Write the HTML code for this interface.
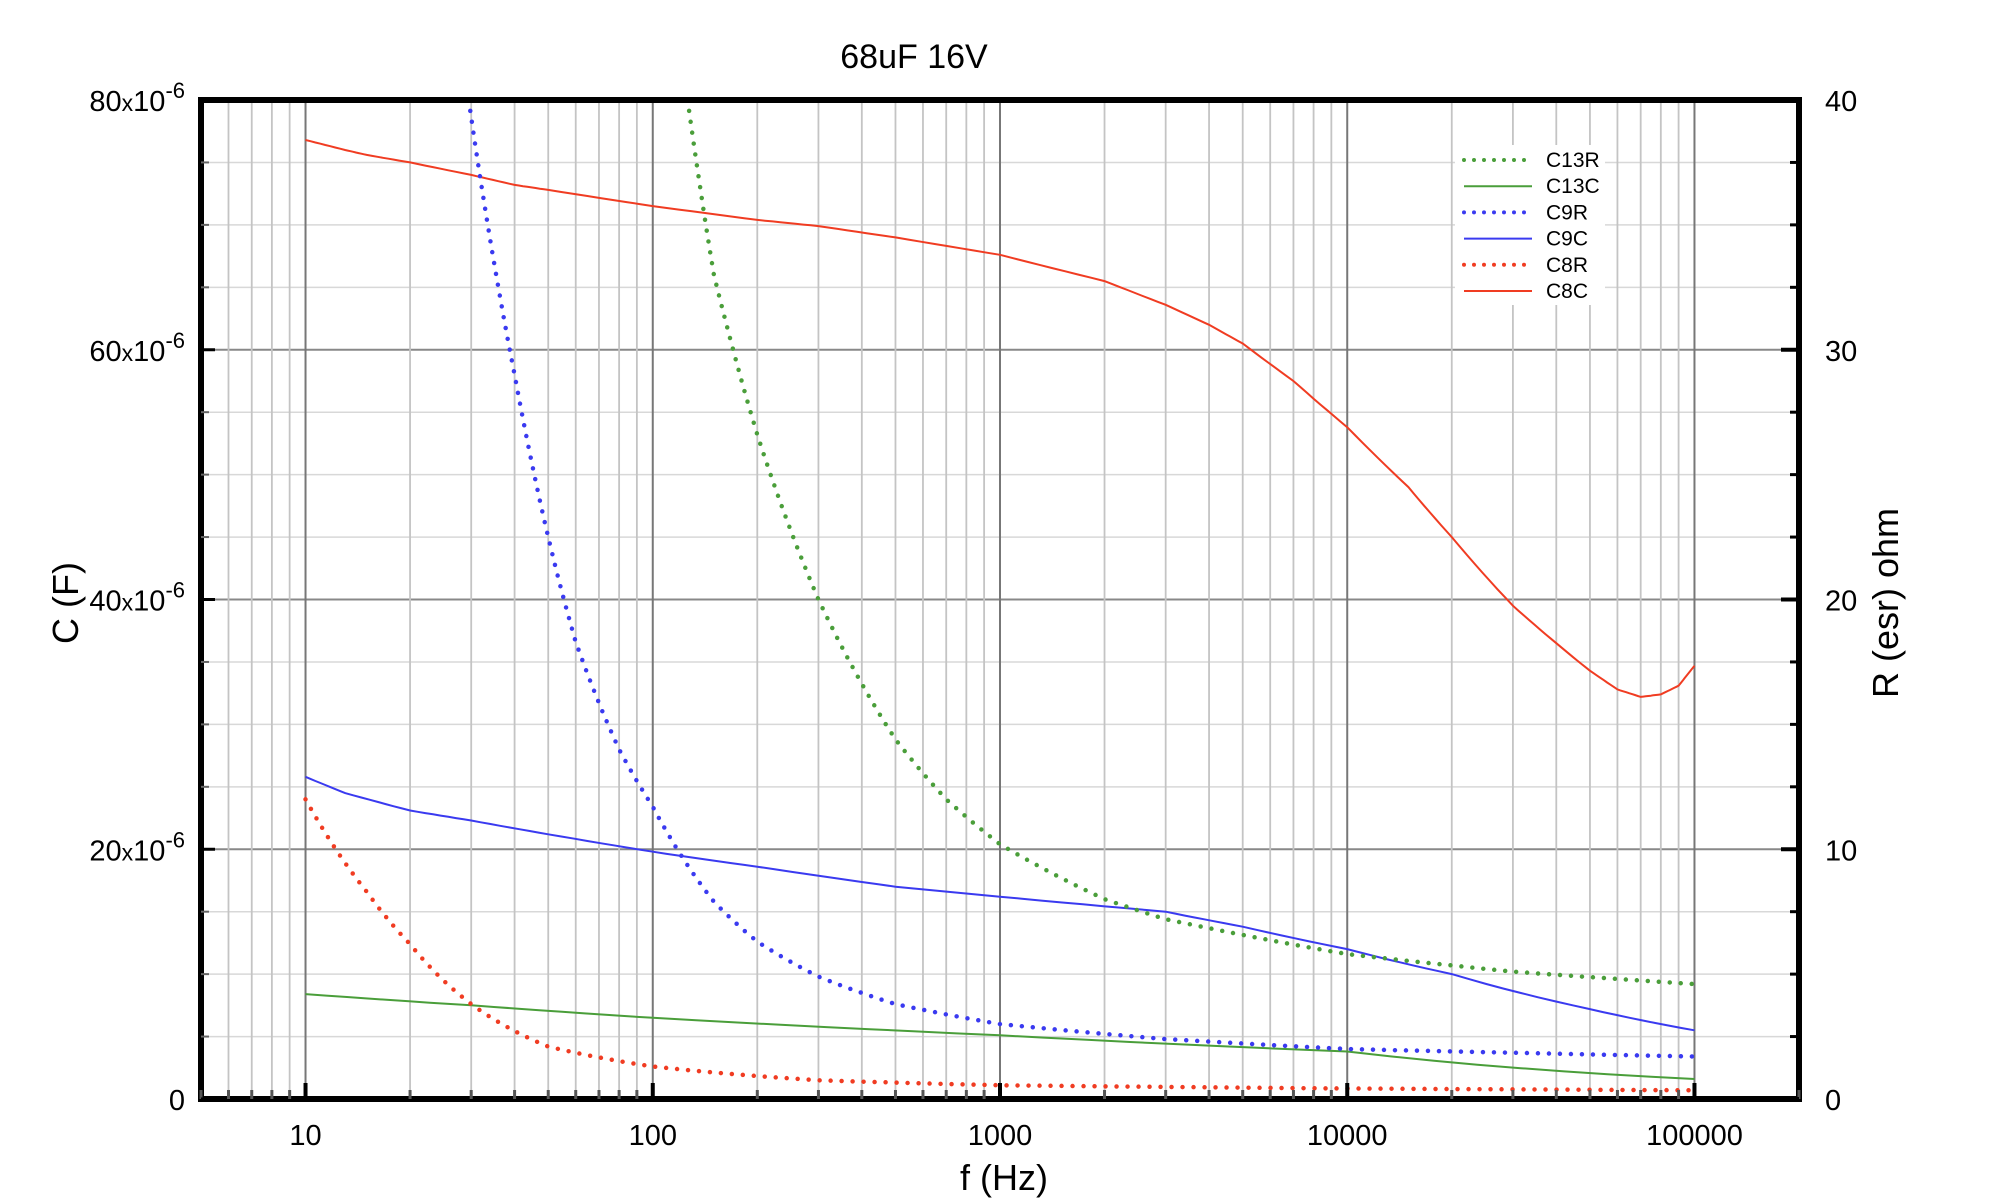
<!DOCTYPE html>
<html><head><meta charset="utf-8"><style>
html,body{margin:0;padding:0;background:#fff}
svg{display:block;font-family:"Liberation Sans",sans-serif}
</style></head><body>
<svg id="s" width="2000" height="1200" viewBox="0 0 2000 1200" xmlns="http://www.w3.org/2000/svg">
<rect width="2000" height="1200" fill="#fff"/>
<g id="grid"></g>
<g id="curves" fill="none"></g>
<g id="legend"></g>
<rect x="201" y="100" width="1598" height="999" fill="none" stroke="#000" stroke-width="6"/>
<g id="ticks"></g>
<text x="914" y="68" font-size="34" text-anchor="middle">68uF 16V</text>
<text x="1004" y="1190" font-size="36" text-anchor="middle">f (Hz)</text>
<text transform="translate(78,603) rotate(-90)" font-size="36" text-anchor="middle">C (F)</text>
<text transform="translate(1898,603) rotate(-90)" font-size="36" text-anchor="middle">R (esr) ohm</text>
</svg>
<script>
const NS="http://www.w3.org/2000/svg";
const L=201,R=1799,T=100,B=1099;
const lx0=Math.log10(5),lx1=Math.log10(200000);
const X=f=>L+(Math.log10(f)-lx0)/(lx1-lx0)*(R-L);
const YC=v=>B-v/80*(B-T);
const YR=v=>B-v/40*(B-T);
function el(p,t,a,txt){const e=document.createElementNS(NS,t);for(const k in a)e.setAttribute(k,a[k]);if(txt!==undefined)e.textContent=txt;p.appendChild(e);return e;}
const g=document.getElementById('grid'),tk=document.getElementById('ticks');
for(let v=5;v<80;v+=5){const y=YC(v);el(g,'line',{x1:L,x2:R,y1:y,y2:y,stroke:v%20==0?'#888':'#d8d8d8','stroke-width':v%20==0?2:1.5});}
for(let d=0;d<6;d++){for(let m=1;m<10;m++){const f=m*Math.pow(10,d);if(f<5||f>200000)continue;const x=X(f);
el(g,'line',{x1:x,x2:x,y1:T,y2:B,stroke:m==1?'#777':'#c4c4c4','stroke-width':m==1?2:1.8});
if(m==1&&d>=1&&d<=5){el(tk,'line',{x1:x,x2:x,y1:B-16,y2:B,stroke:'#000','stroke-width':4});el(tk,'text',{x:x,y:1145,'font-size':29,'text-anchor':'middle'},String(f));}
else el(tk,'line',{x1:x,x2:x,y1:B-9,y2:B,stroke:'#555','stroke-width':3});}}
for(let v=0;v<=80;v+=20){const y=YC(v);
 if(v==0){el(tk,'text',{x:185,y:y+11,'font-size':29,'text-anchor':'end'},'0');}
 else{const t=el(tk,'text',{x:185,y:y+11,'font-size':29,'text-anchor':'end'});
 t.innerHTML=v+'<tspan font-size="23">x</tspan>10<tspan dy="-13" font-size="22">-6</tspan>';}
 el(tk,'line',{x1:L,x2:L+14,y1:y,y2:y,stroke:'#000','stroke-width':3});}
for(let v=5;v<80;v+=5){if(v%20)el(tk,'line',{x1:L,x2:L+8,y1:YC(v),y2:YC(v),stroke:'#666','stroke-width':2});}
for(let r=0;r<=40;r+=2.5){const y=YR(r);const maj=r%10==0;
 el(tk,'line',{x1:R-(maj?18:9),x2:R,y1:y,y2:y,stroke:'#000','stroke-width':maj?4:3});
 if(maj)el(tk,'text',{x:1825,y:y+11,'font-size':29},String(r));}
const c=document.getElementById('curves');
function path(pts,Y){const P=[];for(let i=0;i<pts.length-1;i++){const[a,va]=pts[i],[b,vb]=pts[i+1];const la=Math.log10(a),lb=Math.log10(b);
 const n=8;for(let k=0;k<n;k++){const t=k/n;const lf=la+(lb-la)*t;
 const v=(va>0&&vb>0)?Math.exp(Math.log(va)+(Math.log(vb)-Math.log(va))*t):va+(vb-va)*t;P.push([X(Math.pow(10,lf)),Y(v)]);}}
 const l=pts[pts.length-1];P.push([X(l[0]),Y(l[1])]);return 'M'+P.map(p=>p[0].toFixed(1)+','+p[1].toFixed(1)).join('L');}
const RED='#f03c22',BLUE='#3a3af0',GREEN='#4a9e3a';
const C8C=[[10,76.8],[13,76],[15,75.6],[20,75],[30,74],[40,73.2],[50,72.8],[100,71.5],[200,70.4],[300,69.9],[500,69],[1000,67.6],[2000,65.5],[3000,63.6],[4000,62],[5000,60.5],[7000,57.5],[10000,53.8],[15000,49],[20000,45],[30000,39.5],[40000,36.5],[50000,34.3],[60000,32.8],[70000,32.2],[80000,32.4],[90000,33.1],[100000,34.7]];
const C9C=[[10,25.8],[13,24.5],[20,23.1],[30,22.3],[50,21.2],[100,19.8],[200,18.6],[500,17],[1000,16.2],[3000,15],[5000,13.8],[10000,12],[20000,10],[50000,7.2],[100000,5.5]];
const C13C=[[10,8.4],[30,7.5],[100,6.5],[1000,5.1],[10000,3.8],[100000,1.6]];
const C9R=[[29.5,40],[40,29],[50,22.5],[60,18.3],[80,14],[100,11.7],[150,7.9],[200,6.3],[300,4.9],[500,3.8],[1000,3.0],[3000,2.4],[10000,2.0],[100000,1.7]];
const C13R=[[126,40],[150,33],[200,26.6],[300,20],[500,14.4],[700,12],[1000,10.2],[2000,8],[3000,7.2],[10000,5.8],[30000,5.1],[100000,4.6]];
const C8R=[[10,12],[15,8.3],[20,6.2],[30,3.8],[50,2.1],[100,1.3],[300,0.75],[1000,0.55],[10000,0.42],[100000,0.35]];
function solid(d,col,Y){el(c,'path',{d:path(d,Y),stroke:col,'stroke-width':2});}
function dot(d,col,Y){el(c,'path',{d:path(d,Y),stroke:col,'stroke-width':4.5,'stroke-dasharray':'0 11','stroke-linecap':'round'});}
solid(C8C,RED,YC);solid(C9C,BLUE,YC);solid(C13C,GREEN,YC);
dot(C9R,BLUE,YR);dot(C13R,GREEN,YR);dot(C8R,RED,YR);
const lg=document.getElementById('legend');
el(lg,'rect',{x:1455,y:145,width:150,height:160,fill:'#fff'});
const items=[['C13R',GREEN,1],['C13C',GREEN,0],['C9R',BLUE,1],['C9C',BLUE,0],['C8R',RED,1],['C8C',RED,0]];
items.forEach((it,i)=>{const y=160+i*26.2;
 const a={x1:1464,x2:1532,y1:y,y2:y,stroke:it[1]};
 if(it[2]){a['stroke-width']=4;a['stroke-dasharray']='0 10';a['stroke-linecap']='round';}else a['stroke-width']=2;
 el(lg,'line',a);el(lg,'text',{x:1546,y:y+7,'font-size':21},it[0]);});
</script>
</body></html>
